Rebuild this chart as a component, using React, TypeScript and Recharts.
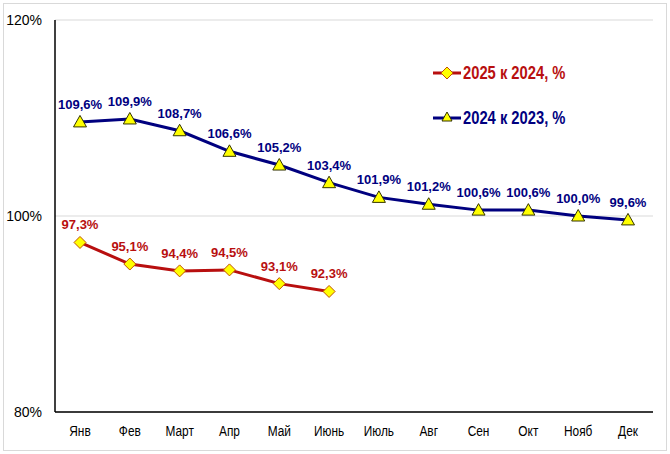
import React from "react";
import { LineChart, Line, XAxis, YAxis, CartesianGrid, LabelList } from "recharts";

const months = ["Янв", "Фев", "Март", "Апр", "Май", "Июнь", "Июль", "Авг", "Сен", "Окт", "Нояб", "Дек"];
const y2024 = [109.6, 109.9, 108.7, 106.6, 105.2, 103.4, 101.9, 101.2, 100.6, 100.6, 100.0, 99.6];
const y2025 = [97.3, 95.1, 94.4, 94.5, 93.1, 92.3, null, null, null, null, null, null];
const yTicks = [80, 100, 120];

const NAVY = "#00007f";
const RED = "#b80f0f";
const FONT = "'Liberation Sans', Arial, sans-serif";

const data = months.map((m, i) => ({ month: m, a: y2025[i], b: y2024[i] }));

const fmt = (v: any) => (v == null ? "" : `${Number(v).toFixed(1).replace(".", ",")}%`);

const Diamond = (props: any) => {
  const { cx, cy } = props;
  if (cx == null || cy == null || props.value == null) return null;
  const r = 6;
  return (
    <path
      d={`M${cx},${cy - r}L${cx + r},${cy}L${cx},${cy + r}L${cx - r},${cy}Z`}
      fill="#ffff00"
      stroke="#c05000"
      strokeWidth={1}
    />
  );
};

const Triangle = (props: any) => {
  const { cx, cy } = props;
  if (cx == null || cy == null) return null;
  return (
    <path
      d={`M${cx},${cy - 6.5}L${cx + 6.5},${cy + 5}L${cx - 6.5},${cy + 5}Z`}
      fill="#ffff00"
      stroke="#333300"
      strokeWidth={1}
    />
  );
};

// narrow-looking month labels (no Arial Narrow installed)
const MonthTick = (props: any) => {
  const { x, y, payload } = props;
  return (
    <text
      transform={`translate(${x},${y}) scale(0.82,1)`}
      dy="0.71em"
      textAnchor="middle"
      fontFamily={FONT}
      fontSize={14.5}
      fill="#000"
    >
      {payload.value}
    </text>
  );
};

const LegendBox = () => (
  <svg width={200} height={70} style={{ position: "absolute", left: 433, top: 61 }}>
    <line x1={0} y1={12} x2={28} y2={12} stroke={RED} strokeWidth={3} />
    <path d="M14,6L20,12L14,18L8,12Z" fill="#ffff00" stroke="#c05000" strokeWidth={1} />
    <text transform="translate(30,18) scale(0.82,1)" fontFamily={FONT} fontWeight="bold" fontSize={18} fill={RED}>
      2025 к 2024, %
    </text>
    <line x1={0} y1={57} x2={28} y2={57} stroke={NAVY} strokeWidth={3} />
    <path d="M14,51L19,60L9,60Z" fill="#ffff00" stroke="#333300" strokeWidth={1} />
    <text transform="translate(30,63) scale(0.82,1)" fontFamily={FONT} fontWeight="bold" fontSize={18} fill={NAVY}>
      2024 к 2023, %
    </text>
  </svg>
);

export default function App() {
  return (
    <div style={{ position: "absolute", left: 0, top: 0, width: 670, height: 454, background: "#fff" }}>
      <div
        style={{
          position: "absolute",
          left: 3,
          top: 3,
          width: 662,
          height: 446,
          border: "1px solid #d9d9d9",
        }}
      />
      <div style={{ position: "absolute", left: 0, top: 0 }}>
        <LineChart
          width={670}
          height={454}
          data={data}
          margin={{ top: 20, right: 17, bottom: 12, left: 0 }}
        >
          <CartesianGrid horizontal vertical={false} stroke="#d9d9d9" />
          <XAxis
            dataKey="month"
            height={30}
            padding={{ left: 25, right: 25 }}
            tickLine={false}
            axisLine={{ stroke: "#000", strokeWidth: 1.5 }}
            tick={<MonthTick />}
            tickMargin={8}
            interval={0}
          />
          <YAxis
            width={55}
            domain={[80, 120]}
            ticks={yTicks}
            tickFormatter={(v) => `${v}%`}
            tickLine={false}
            axisLine={{ stroke: "#000", strokeWidth: 1.5 }}
            tick={{ fontFamily: FONT, fontSize: 14, fill: "#000" }}
            tickMargin={7}
          />
          <Line dataKey="b" stroke={NAVY} strokeWidth={3} dot={<Triangle />} isAnimationActive={false}>
            <LabelList
              dataKey="b"
              position="top"
              offset={13}
              formatter={fmt}
              style={{ fontFamily: FONT, fontWeight: "bold", fontSize: 13, fill: NAVY }}
            />
          </Line>
          <Line
            dataKey="a"
            stroke={RED}
            strokeWidth={3}
            dot={<Diamond />}
            connectNulls={false}
            isAnimationActive={false}
          >
            <LabelList
              dataKey="a"
              position="top"
              offset={13}
              formatter={fmt}
              style={{ fontFamily: FONT, fontWeight: "bold", fontSize: 13, fill: RED }}
            />
          </Line>
        </LineChart>
      </div>
      <LegendBox />
    </div>
  );
}
